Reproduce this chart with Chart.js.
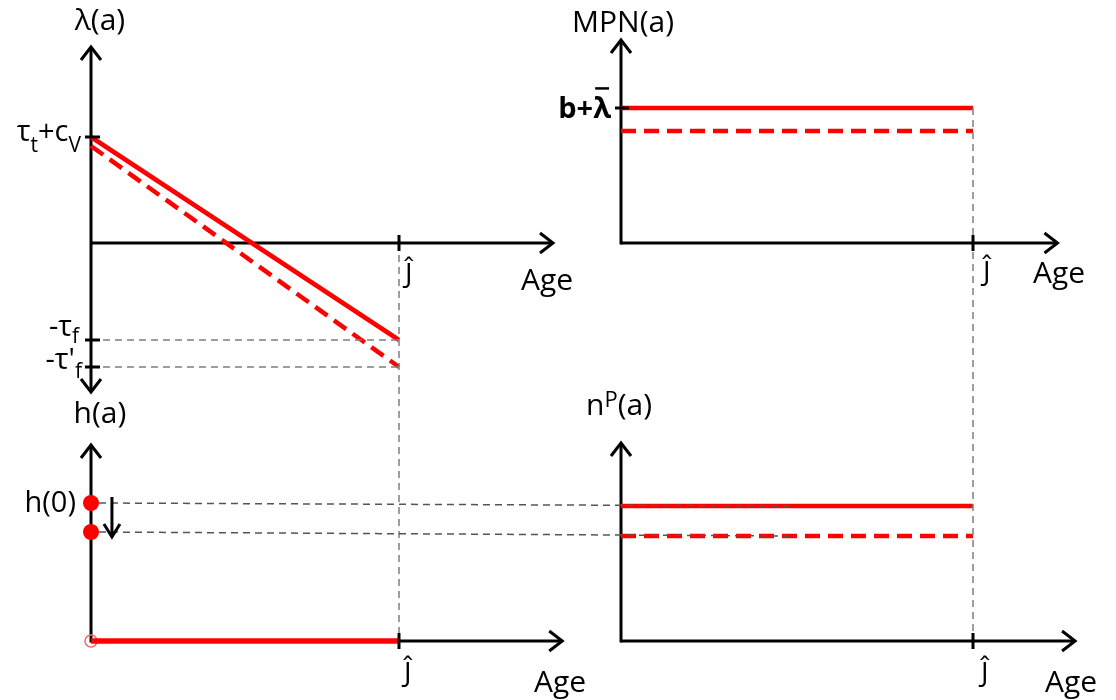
<!DOCTYPE html>
<html>
<head>
<meta charset="utf-8">
<script src="https://cdn.jsdelivr.net/npm/chart.js@4.4.1/dist/chart.umd.min.js"></script>
<style>
  body { margin: 0; background: #fff; }
  #wrap { width: 1116px; height: 700px; }
</style>
</head>
<body>
<div id="wrap"><canvas id="c"></canvas></div>
<script>
// ages: 0 and Ĵ
const ages = [0, 1];
// λ(a): before (solid) and after (dashed)
const lambdaOld = [1.06, -0.97];
const lambdaNew = [0.97, -1.24];
// MPN(a)
const mpnOld = [1.35, 1.35];
const mpnNew = [1.12, 1.12];
// h(a)
const hStart = [1.38, 1.09];
const hLine = [0, 0];
// n^P(a)
const npOld = [1.35, 1.35];
const npNew = [1.05, 1.05];

const RED = '#ff0000';
const FONT = "'Open Sans', sans-serif";

// layout of the four panels (pixels)
const W = 1116, H = 700;
const xLeft = { zero: 91, unit: 308 }, xRight = { zero: 621, unit: 352 };
const yTop = { zero: 243, unit: 100 }, yBot = { zero: 641, unit: 100 };
const xScale = s => ({ type: 'linear', display: false, min: -s.zero / s.unit, max: (W - s.zero) / s.unit });
const yScale = s => ({ type: 'linear', display: false, min: -(H - s.zero) / s.unit, max: s.zero / s.unit });

const pts = (xs, ys) => xs.map((x, i) => ({ x, y: ys[i] }));

function arrowHead(ctx, x, y, dir, a = 10, b = 13) {
  ctx.beginPath();
  if (dir === 'up') { ctx.moveTo(x - a, y + b); ctx.lineTo(x, y); ctx.lineTo(x + a, y + b); }
  if (dir === 'down') { ctx.moveTo(x - a, y - b); ctx.lineTo(x, y); ctx.lineTo(x + a, y - b); }
  if (dir === 'right') { ctx.moveTo(x - b, y - a); ctx.lineTo(x, y); ctx.lineTo(x - b, y + a); }
  ctx.stroke();
}

function line(ctx, x1, y1, x2, y2) {
  ctx.beginPath(); ctx.moveTo(x1, y1); ctx.lineTo(x2, y2); ctx.stroke();
}

// parts: [{t, sub, sup, bar}]
function rich(ctx, parts, x, y, align, size, bold) {
  const f = p => (bold ? 'bold ' : '') + ((p.sub || p.sup) ? Math.round(size * 0.72) : size) + 'px ' + FONT;
  let w = 0;
  parts.forEach(p => { ctx.font = f(p); w += ctx.measureText(p.t).width; });
  let cx = align === 'right' ? x - w : align === 'center' ? x - w / 2 : x;
  ctx.textAlign = 'left';
  ctx.textBaseline = 'alphabetic';
  parts.forEach(p => {
    ctx.font = f(p);
    const dy = p.sub ? (p.dy || size * 0.38) : p.sup ? -(p.dy || size * 0.4) : 0;
    ctx.fillText(p.t, cx, y + dy);
    const pw = ctx.measureText(p.t).width;
    if (p.bar) { ctx.lineWidth = 2.5; line(ctx, cx + 2, y - size * 1.02, cx + pw - 2, y - size * 1.02); }
    cx += pw;
  });
}

const diagram = {
  id: 'diagram',
  beforeDatasetsDraw(chart) {
    const { ctx, scales: { xL, xR, yT, yB } } = chart;
    ctx.save();
    ctx.strokeStyle = '#000';
    ctx.lineWidth = 3;
    ctx.lineCap = 'butt';
    const X = (s, v) => s.getPixelForValue(v);
    // top-left
    line(ctx, X(xL, 0), X(yT, -1.49), X(xL, 0), X(yT, 1.96));
    arrowHead(ctx, X(xL, 0), X(yT, 1.96), 'up');
    arrowHead(ctx, X(xL, 0), X(yT, -1.49), 'down');
    line(ctx, X(xL, 0), X(yT, 0), X(xL, 1.5), X(yT, 0));
    arrowHead(ctx, X(xL, 1.5), X(yT, 0), 'right');
    // top-right
    line(ctx, X(xR, 0), X(yT, 0) + 1.5, X(xR, 0), X(yT, 2.03));
    arrowHead(ctx, X(xR, 0), X(yT, 2.03), 'up');
    line(ctx, X(xR, 0), X(yT, 0), X(xR, 1.24), X(yT, 0));
    arrowHead(ctx, X(xR, 1.24), X(yT, 0), 'right');
    // bottom-left
    line(ctx, X(xL, 0), X(yB, 0) + 1.5, X(xL, 0), X(yB, 1.96));
    arrowHead(ctx, X(xL, 0), X(yB, 1.96), 'up');
    line(ctx, X(xL, 0), X(yB, 0), X(xL, 1.53), X(yB, 0));
    arrowHead(ctx, X(xL, 1.53), X(yB, 0), 'right');
    // bottom-right
    line(ctx, X(xR, 0), X(yB, 0) + 1.5, X(xR, 0), X(yB, 1.98));
    arrowHead(ctx, X(xR, 0), X(yB, 1.98), 'up');
    line(ctx, X(xR, 0), X(yB, 0), X(xR, 1.29), X(yB, 0));
    arrowHead(ctx, X(xR, 1.29), X(yB, 0), 'right');
    ctx.restore();
  },
  afterDatasetsDraw(chart) {
    const { ctx, scales: { xL, xR, yT, yB } } = chart;
    const X = (s, v) => s.getPixelForValue(v);
    const jL = X(xL, ages[1]), jR = X(xR, ages[1]);
    ctx.save();
    // dashed guides
    ctx.strokeStyle = '#7f7f7f';
    ctx.lineWidth = 1.5;
    ctx.setLineDash([7, 5]);
    line(ctx, jL, X(yT, 0), jL, X(yB, 0));
    line(ctx, jR, X(yT, mpnOld[1]), jR, X(yB, 0));
    line(ctx, X(xL, 0), X(yT, lambdaOld[1]), jL, X(yT, lambdaOld[1]));
    line(ctx, X(xL, 0), X(yT, lambdaNew[1]), jL, X(yT, lambdaNew[1]));
    ctx.strokeStyle = '#555';
    line(ctx, X(xL, 0) + 8, X(yB, hStart[0]), X(xR, 0.48), X(yB, npOld[0]));
    line(ctx, X(xL, 0) + 8, X(yB, hStart[1]), X(xR, 0.48), X(yB, npNew[0]));
    ctx.setLineDash([]);

    // ticks
    ctx.strokeStyle = '#000';
    ctx.lineWidth = 3;
    [[jL, X(yT, 0)], [jR, X(yT, 0)], [jL, X(yB, 0)], [jR, X(yB, 0)]].forEach(([x, y]) => line(ctx, x, y - 8, x, y + 8));
    const a0 = X(xL, 0);
    [lambdaOld[0], lambdaOld[1], lambdaNew[1]].forEach(v => line(ctx, a0 - 6, X(yT, v), a0 + 9, X(yT, v)));
    line(ctx, X(xR, 0) - 6, X(yT, mpnOld[0]), X(xR, 0) + 8, X(yT, mpnOld[0]));

    // h(0) drop arrow
    ctx.lineWidth = 3;
    const ax = X(xL, 0.068);
    line(ctx, ax, X(yB, hStart[0]) - 6, ax, X(yB, hStart[1]) + 4);
    arrowHead(ctx, ax, X(yB, hStart[1]) + 5, 'down', 8, 13);

    // labels
    ctx.fillStyle = '#000';
    const S = 30;
    rich(ctx, [{ t: 'λ(a)' }], 100, 30, 'center', S);
    rich(ctx, [{ t: 'MPN(a)' }], 623, 32, 'center', S);
    rich(ctx, [{ t: 'h(a)' }], 100, 423, 'center', S);
    rich(ctx, [{ t: 'n' }, { t: 'P', sup: true, dy: 8 }, { t: '(a)' }], 586, 415, 'left', S);
    rich(ctx, [{ t: 'Age' }], 521, 290, 'left', S);
    rich(ctx, [{ t: 'Age' }], 1033, 283, 'left', S);
    rich(ctx, [{ t: 'Age' }], 534, 692, 'left', S);
    rich(ctx, [{ t: 'Age' }], 1045, 692, 'left', S);
    rich(ctx, [{ t: 'Ĵ' }], jL + 6, 283, 'left', 28);
    rich(ctx, [{ t: 'Ĵ' }], jR + 10, 281, 'left', 28);
    rich(ctx, [{ t: 'Ĵ' }], jL + 5, 682, 'left', 28);
    rich(ctx, [{ t: 'Ĵ' }], jR + 8, 682, 'left', 28);
    rich(ctx, [{ t: 'τ' }, { t: 't', sub: true, dy: 11 }, { t: '+c' }, { t: 'V', sub: true, dy: 11 }], 81, X(yT, lambdaOld[0]) + 4, 'right', 29);
    rich(ctx, [{ t: '-τ' }, { t: 'f', sub: true, dy: 7 }], 79, X(yT, lambdaOld[1]) - 4, 'right', 29);
    rich(ctx, [{ t: '-τ\'' }, { t: 'f', sub: true, dy: 9 }], 82, X(yT, lambdaNew[1]) + 2, 'right', 29);
    rich(ctx, [{ t: 'b+' }, { t: 'λ', bar: true }], 611, X(yT, mpnOld[0]) + 10, 'right', 29, true);
    rich(ctx, [{ t: 'h(0)' }], 76, X(yB, hStart[0]) + 9, 'right', 29);
    ctx.restore();
  }
};

const solid = (data, xAxisID, yAxisID, w) => ({
  data, xAxisID, yAxisID, showLine: true, borderColor: RED, borderWidth: w || 4.5,
  pointRadius: 0, borderCapStyle: 'butt'
});
const dashed = (data, xAxisID, yAxisID) => Object.assign(solid(data, xAxisID, yAxisID), { borderDash: [15, 8] });

new Chart(document.getElementById('c'), {
  type: 'scatter',
  data: {
    datasets: [
      solid(pts(ages, lambdaOld), 'xL', 'yT'),
      dashed(pts(ages, lambdaNew), 'xL', 'yT'),
      solid(pts(ages, mpnOld), 'xR', 'yT'),
      dashed(pts(ages, mpnNew), 'xR', 'yT'),
      solid(pts(ages, hLine), 'xL', 'yB', 5.5),
      solid(pts(ages, npOld), 'xR', 'yB'),
      dashed(pts(ages, npNew), 'xR', 'yB'),
      { data: pts([0, 0], hStart), xAxisID: 'xL', yAxisID: 'yB', pointRadius: 8, backgroundColor: RED, borderWidth: 0 },
      { data: [{ x: 0, y: 0 }], xAxisID: 'xL', yAxisID: 'yB', pointRadius: 6, backgroundColor: 'rgba(0,0,0,0)', borderColor: '#ff6060', borderWidth: 1.5 }
    ]
  },
  options: {
    responsive: true,
    maintainAspectRatio: false,
    animation: false,
    layout: { padding: 0, autoPadding: false },
    plugins: { legend: { display: false }, tooltip: { enabled: false } },
    scales: { xL: xScale(xLeft), xR: xScale(xRight), yT: yScale(yTop), yB: yScale(yBot) }
  },
  plugins: [diagram]
});
</script>
</body>
</html>
